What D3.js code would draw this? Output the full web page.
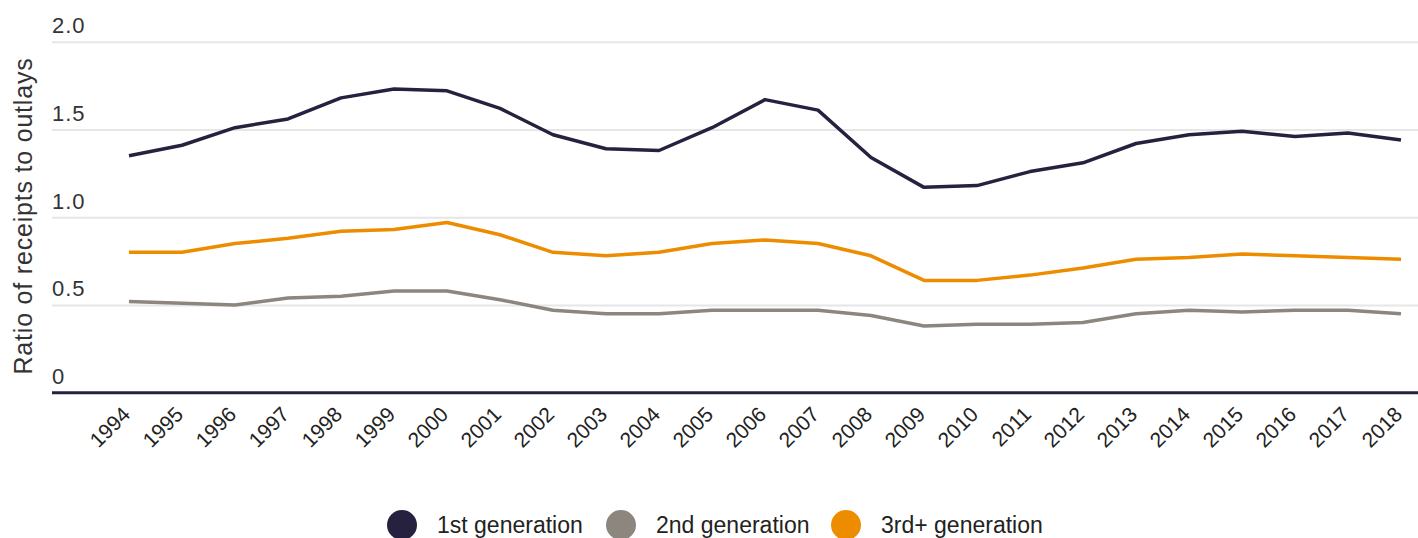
<!DOCTYPE html>
<html>
<head>
<meta charset="utf-8">
<script src="https://cdn.jsdelivr.net/npm/d3@7"></script>
<style>
  html, body { margin: 0; padding: 0; background: #fff; }
  svg { display: block; }
</style>
</head>
<body>
<svg id="chart" width="1418" height="538"></svg>
<script>
// Years on the horizontal axis
const years = [1994, 1995, 1996, 1997, 1998, 1999, 2000, 2001, 2002, 2003, 2004, 2005, 2006,
               2007, 2008, 2009, 2010, 2011, 2012, 2013, 2014, 2015, 2016, 2017, 2018];

// Ratio of receipts to outlays, by immigrant generation
const firstGen = [1.35, 1.41, 1.51, 1.56, 1.68, 1.73, 1.72, 1.62, 1.47, 1.39, 1.38, 1.51, 1.67,
                  1.61, 1.34, 1.17, 1.18, 1.26, 1.31, 1.42, 1.47, 1.49, 1.46, 1.48, 1.44];
const secondGen = [0.52, 0.51, 0.50, 0.54, 0.55, 0.58, 0.58, 0.53, 0.47, 0.45, 0.45, 0.47, 0.47,
                   0.47, 0.44, 0.38, 0.39, 0.39, 0.40, 0.45, 0.47, 0.46, 0.47, 0.47, 0.45];
const thirdGen = [0.80, 0.80, 0.85, 0.88, 0.92, 0.93, 0.97, 0.90, 0.80, 0.78, 0.80, 0.85, 0.87,
                  0.85, 0.78, 0.64, 0.64, 0.67, 0.71, 0.76, 0.77, 0.79, 0.78, 0.77, 0.76];

const yTicks = [0, 0.5, 1.0, 1.5, 2.0];
const seriesNames = ["1st generation", "2nd generation", "3rd+ generation"];
const seriesColors = ["#26213f", "#8c867f", "#ee8c00"];
const seriesValues = [firstGen, secondGen, thirdGen];

const W = 1418, H = 538;
const plotLeft = 52;
const svg = d3.select("#chart");

const x = d3.scalePoint().domain(years).range([129, 1401]);
const y = d3.scaleLinear().domain([0, 2]).range([392.7, 41.7]);

// Horizontal gridlines with tick labels sitting above each line
const yAxis = svg.append("g")
  .attr("transform", `translate(${plotLeft},0)`)
  .call(d3.axisRight(y)
    .tickValues(yTicks)
    .tickSize(W - plotLeft)
    .tickFormat(d => d === 0 ? "0" : d3.format(".1f")(d)));
yAxis.select(".domain").remove();
yAxis.selectAll(".tick line")
  .attr("stroke", "#e6e6e6")
  .attr("stroke-width", 2)
  .attr("opacity", d => d === 0 ? 0 : 1);
yAxis.selectAll(".tick text")
  .attr("x", 0)
  .attr("dy", -9)
  .attr("text-anchor", "start")
  .attr("fill", "#333")
  .style("font-family", "'Liberation Sans', Arial, sans-serif")
  .style("font-size", "22px")
  .style("letter-spacing", "1px");

// Axis title
svg.append("text")
  .attr("transform", `translate(32,216) rotate(-90)`)
  .attr("text-anchor", "middle")
  .attr("fill", "#333")
  .style("font-family", "'Liberation Sans', Arial, sans-serif")
  .style("font-size", "25px")
  .style("letter-spacing", "0.8px")
  .text("Ratio of receipts to outlays");

// Baseline at zero
svg.append("line")
  .attr("x1", plotLeft).attr("x2", W)
  .attr("y1", y(0)).attr("y2", y(0))
  .attr("stroke", "#26213f")
  .attr("stroke-width", 3);

// Year labels, rotated
const xAxis = svg.append("g")
  .attr("transform", `translate(0,${y(0)})`)
  .call(d3.axisBottom(x).tickSize(0).tickFormat(d3.format("d")));
xAxis.select(".domain").remove();
xAxis.selectAll(".tick text")
  .attr("text-anchor", "end")
  .attr("y", 0)
  .attr("dy", 0)
  .attr("transform", "translate(2,23) rotate(-45)")
  .attr("fill", "#222")
  .style("font-family", "'Liberation Sans', Arial, sans-serif")
  .style("font-size", "21px");

// Series lines
const line = d3.line()
  .x((d, i) => x(years[i]))
  .y(d => y(d));

svg.append("g").selectAll("path")
  .data(seriesValues.map((v, i) => ({ v, c: seriesColors[i] })))
  .join("path")
  .attr("d", d => line(d.v))
  .attr("fill", "none")
  .attr("stroke", d => d.c)
  .attr("stroke-width", 3.5)
  .attr("stroke-linejoin", "round");

// Legend
const legendX = [402, 621, 846];
const legend = svg.append("g").selectAll("g")
  .data(seriesNames)
  .join("g")
  .attr("transform", (d, i) => `translate(${legendX[i]},525)`);
legend.append("circle")
  .attr("r", 15)
  .attr("fill", (d, i) => seriesColors[i]);
legend.append("text")
  .attr("x", 35)
  .attr("y", 8)
  .attr("fill", "#222")
  .style("font-family", "'Liberation Sans', Arial, sans-serif")
  .style("font-size", "23px")
  .text(d => d);
</script>
</body>
</html>
